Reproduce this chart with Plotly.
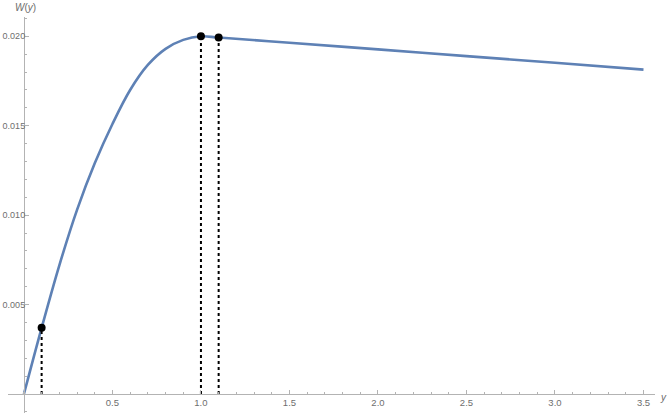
import plotly.graph_objects as go

# W(y) curve
y_vals = [0.0, 0.1, 0.2, 0.3, 0.4, 0.5, 0.6, 0.7, 0.8, 0.9, 1.0,
          1.1, 1.5, 2.0, 2.5, 3.0, 3.5]
w_vals = [0.0, 0.0037, 0.0072, 0.0103, 0.0129, 0.0151, 0.0170, 0.0184,
          0.0193, 0.0198, 0.0200,
          0.01993, 0.01964, 0.01927, 0.01889, 0.01852, 0.01814]

# marked points with dotted drop lines
mark_y = [0.1, 1.0, 1.1]
mark_w = [0.0037, 0.0200, 0.01993]

x_ticks = [0.5, 1.0, 1.5, 2.0, 2.5, 3.0, 3.5]
x_labels = ["0.5", "1.0", "1.5", "2.0", "2.5", "3.0", "3.5"]
w_ticks = [0.005, 0.010, 0.015, 0.020]
w_labels = ["0.005", "0.010", "0.015", "0.020"]

CURVE = "#5E81B5"
AXIS = "#b3b3b3"
LABEL = "#6e6e6e"
FONT = "Liberation Sans, Arial, sans-serif"

X_RANGE = [-0.09, 3.565]
Y_RANGE = [-0.00106, 0.02108]

fig = go.Figure()
fig.add_trace(go.Scatter(
    x=y_vals, y=w_vals, mode="lines", line=dict(color=CURVE, width=2.6, shape="spline", smoothing=1.0),
    hoverinfo="skip",
))
for yy, ww in zip(mark_y, mark_w):
    fig.add_trace(go.Scatter(
        x=[yy, yy], y=[0, ww], mode="lines",
        line=dict(color="black", width=2, dash="dot"), hoverinfo="skip",
    ))
fig.add_trace(go.Scatter(
    x=mark_y, y=mark_w, mode="markers",
    marker=dict(color="black", size=8), hoverinfo="skip",
))

fig.update_layout(
    width=668, height=415,
    margin=dict(l=8, r=13, t=17, b=2),
    paper_bgcolor="white", plot_bgcolor="white",
    showlegend=False,
    font=dict(family=FONT, size=9.5, color=LABEL),
    xaxis=dict(
        range=X_RANGE, showgrid=False, zeroline=False, automargin=False,
        anchor="free", position=(0 - Y_RANGE[0]) / (Y_RANGE[1] - Y_RANGE[0]),
        showline=True, linecolor=AXIS, linewidth=1,
        tickmode="array", tickvals=x_ticks, ticktext=x_labels,
        ticks="inside", ticklen=4, tickcolor=AXIS,
        minor=dict(tickmode="linear", tick0=0, dtick=0.1, ticks="inside", ticklen=2, tickcolor=AXIS),
        tickfont=dict(family=FONT, size=9.5, color=LABEL),
    ),
    yaxis=dict(
        range=Y_RANGE, showgrid=False, zeroline=False, automargin=False,
        anchor="free", position=(0 - X_RANGE[0]) / (X_RANGE[1] - X_RANGE[0]),
        showline=True, linecolor=AXIS, linewidth=1,
        tickmode="array", tickvals=w_ticks, ticktext=w_labels,
        ticks="inside", ticklen=4, tickcolor=AXIS, ticklabelstandoff=-3,
        minor=dict(tickmode="linear", tick0=0, dtick=0.001, ticks="inside", ticklen=2, tickcolor=AXIS),
        tickfont=dict(family=FONT, size=9, color=LABEL),
    ),
    annotations=[
        dict(text="<i>W</i>(<i>y</i>)", xref="paper", yref="paper", x=0.0, y=1.0,
             xshift=5, yshift=10, xanchor="left", yanchor="middle", showarrow=False,
             font=dict(family=FONT, size=10, color=LABEL)),
        dict(text="<i>y</i>", xref="paper", yref="paper", x=1.0, y=(0 - Y_RANGE[0]) / (Y_RANGE[1] - Y_RANGE[0]),
             xshift=3, yshift=-3, xanchor="left", yanchor="middle", showarrow=False,
             font=dict(family=FONT, size=10, color=LABEL)),
    ],
)

# drop the browser's default 8px body margin so the figure sits at the window corner
fig.write_html("out.html", config={"displayModeBar": False},
               post_script="document.body.style.margin = '0';")
